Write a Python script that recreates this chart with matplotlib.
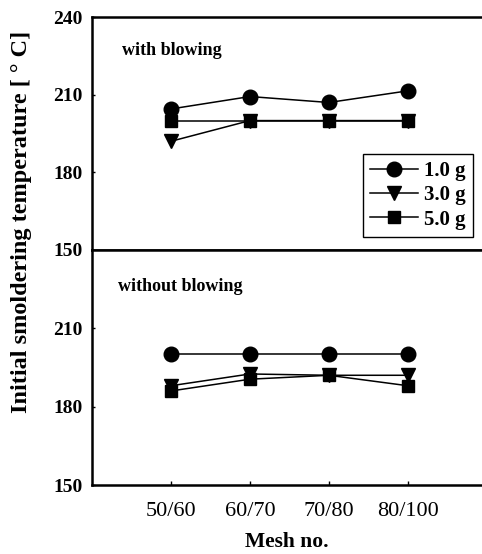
import matplotlib.pyplot as plt

plt.rcParams['font.family'] = ['Liberation Serif', 'DejaVu Serif']

mesh = ["50/60", "60/70", "70/80", "80/100"]
x = [1, 2, 3, 4]

# with blowing
blow_1g = [204.5, 209.3, 207.0, 211.5]
blow_3g = [192.0, 200.0, 200.0, 200.0]
blow_5g = [200.0, 200.0, 200.0, 200.0]

# without blowing
noblow_1g = [200.0, 200.0, 200.0, 200.0]
noblow_3g = [188.0, 192.5, 192.0, 192.0]
noblow_5g = [186.0, 190.5, 192.0, 188.0]

fig = plt.figure(figsize=(4.82, 5.54), dpi=100)
ax1 = fig.add_axes([0.191, 0.549, 0.809, 0.42])
ax2 = fig.add_axes([0.191, 0.1245, 0.809, 0.4245])

styles = [("o", "1.0 g", 10.5), ("v", "3.0 g", 10), ("s", "5.0 g", 9)]

for ax, series in [(ax1, [blow_1g, blow_3g, blow_5g]),
                   (ax2, [noblow_1g, noblow_3g, noblow_5g])]:
    for (m, lab, ms), vals in zip(styles, series):
        ax.plot(x, vals, color="black", lw=1.1, marker=m, markersize=ms,
                label=lab)
    ax.set_xlim(0, 4.94)
    ax.set_ylim(150, 240)
    for s in ["left", "bottom", "top"]:
        ax.spines[s].set_linewidth(1.8)
    ax.spines["right"].set_visible(False)
    ax.tick_params(axis="y", direction="in", length=2, width=1,
                   labelsize=14, pad=7)

ax1.set_yticks([150, 180, 210, 240])
ax2.set_yticks([150, 180, 210])
for ax in (ax1, ax2):
    for t in ax.get_yticklabels():
        t.set_fontweight("bold")
ax1.set_xticks([])
ax2.set_xticks(x)
ax2.set_xticklabels(mesh)
ax2.tick_params(axis="x", direction="in", length=3, width=1,
                labelsize=16, pad=12)

ax1.text(0.38, 227, "with blowing", fontsize=13, fontweight="bold",
         va="center")
ax2.text(0.33, 226, "without blowing", fontsize=13, fontweight="bold",
         va="center")

leg = ax1.legend(loc="lower right", bbox_to_anchor=(0.977, 0.056),
                 fancybox=False, edgecolor="black", framealpha=1,
                 prop={"size": 15, "weight": "bold"}, handlelength=2.3,
                 borderpad=0.35, labelspacing=0.2, handletextpad=0.3,
                 borderaxespad=0)
leg.get_frame().set_linewidth(1)

ax2.set_xlabel("Mesh no.", fontsize=15.5, fontweight="bold", labelpad=8)
fig.text(0.045, 0.60, "Initial smoldering temperature [ ° C]", rotation=90,
         fontsize=17.5, fontweight="bold", ha="center", va="center")

fig.savefig("out.png", dpi=100)
